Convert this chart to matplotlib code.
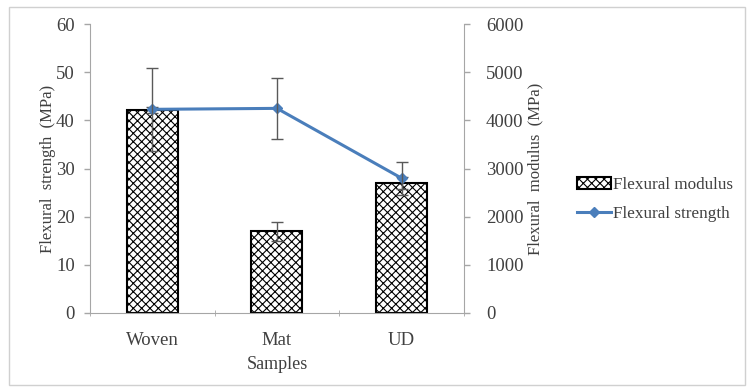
import matplotlib.pyplot as plt
from matplotlib.patches import Rectangle

plt.rcParams['font.family'] = ['Liberation Serif', 'DejaVu Serif']
plt.rcParams['hatch.linewidth'] = 0.8

# data
samples = ['Woven', 'Mat', 'UD']
modulus = [4210, 1700, 2700]          # MPa, bars (right axis)
modulus_err = [60, 200, 130]
strength = [42.3, 42.5, 28.0]          # MPa, line (left axis)
strength_err = [8.6, 6.4, 3.4]

grey = '#a6a6a6'
txt = '#404040'
blue = '#4a7ebb'
fs = 13.5

fig = plt.figure(figsize=(7.47, 3.89), dpi=100)
ax = fig.add_axes([0.1205, 0.1954, 0.5005, 0.7426])
ax2 = ax.twinx()

x = list(range(len(samples)))
bars = ax2.bar(x, modulus, width=0.41, color='white', edgecolor='black',
               hatch='xxxx', linewidth=1.5, label='Flexural modulus')
ax2.errorbar(x, modulus, yerr=modulus_err, fmt='none', ecolor='#595959',
             elinewidth=1, capsize=4, capthick=1)

ax.set_zorder(ax2.get_zorder() + 1)
ax.patch.set_visible(False)
line, = ax.plot(x, strength, color=blue, linewidth=2.2, marker='D',
                markersize=5, label='Flexural strength')
ax.errorbar(x, strength, yerr=strength_err, fmt='none', ecolor='#595959',
            elinewidth=1, capsize=4, capthick=1)

ax.set_xlim(-0.5, 2.5)
ax.set_ylim(0, 60)
ax2.set_ylim(0, 6000)
ax.set_yticks(range(0, 61, 10))
ax2.set_yticks(range(0, 6001, 1000))

ax.set_xticks(x)
ax.set_xticklabels(samples)
ax.set_xticks([-0.5, 0.5, 1.5, 2.5], minor=True)
ax.tick_params(axis='x', which='major', length=0, pad=14)
ax.tick_params(axis='x', which='minor', length=4, color=grey, direction='inout')

for a in (ax, ax2):
    for s in a.spines.values():
        s.set_visible(False)
    a.tick_params(axis='y', colors=grey, labelcolor=txt, labelsize=fs, length=4, width=1)
ax.tick_params(axis='y', pad=7)
ax2.tick_params(axis='y', pad=12)
ax.tick_params(axis='x', labelcolor=txt, labelsize=fs)
ax.spines['left'].set_visible(True)
ax.spines['left'].set_color(grey)
ax.spines['bottom'].set_visible(True)
ax.spines['bottom'].set_color(grey)
ax2.spines['right'].set_visible(True)
ax2.spines['right'].set_color(grey)

ax.set_ylabel('Flexural  strength  (MPa)', color=txt, fontsize=12, labelpad=0)
ax2.set_ylabel('Flexural  modulus  (MPa)', color=txt, fontsize=12, labelpad=3)
ax.set_xlabel('Samples', color=txt, fontsize=13, labelpad=5)

fig.legend(handles=[bars, line], loc='center left', bbox_to_anchor=(0.752, 0.487),
           frameon=False, fontsize=12.3, labelcolor=txt, handlelength=2.0,
           handletextpad=0.1, labelspacing=0.75)

fig.patches.append(Rectangle((0.012, 0.01), 0.985, 0.972, transform=fig.transFigure,
                             fill=False, edgecolor='#d0d0d0', linewidth=1))

fig.savefig('out.png', dpi=100)
